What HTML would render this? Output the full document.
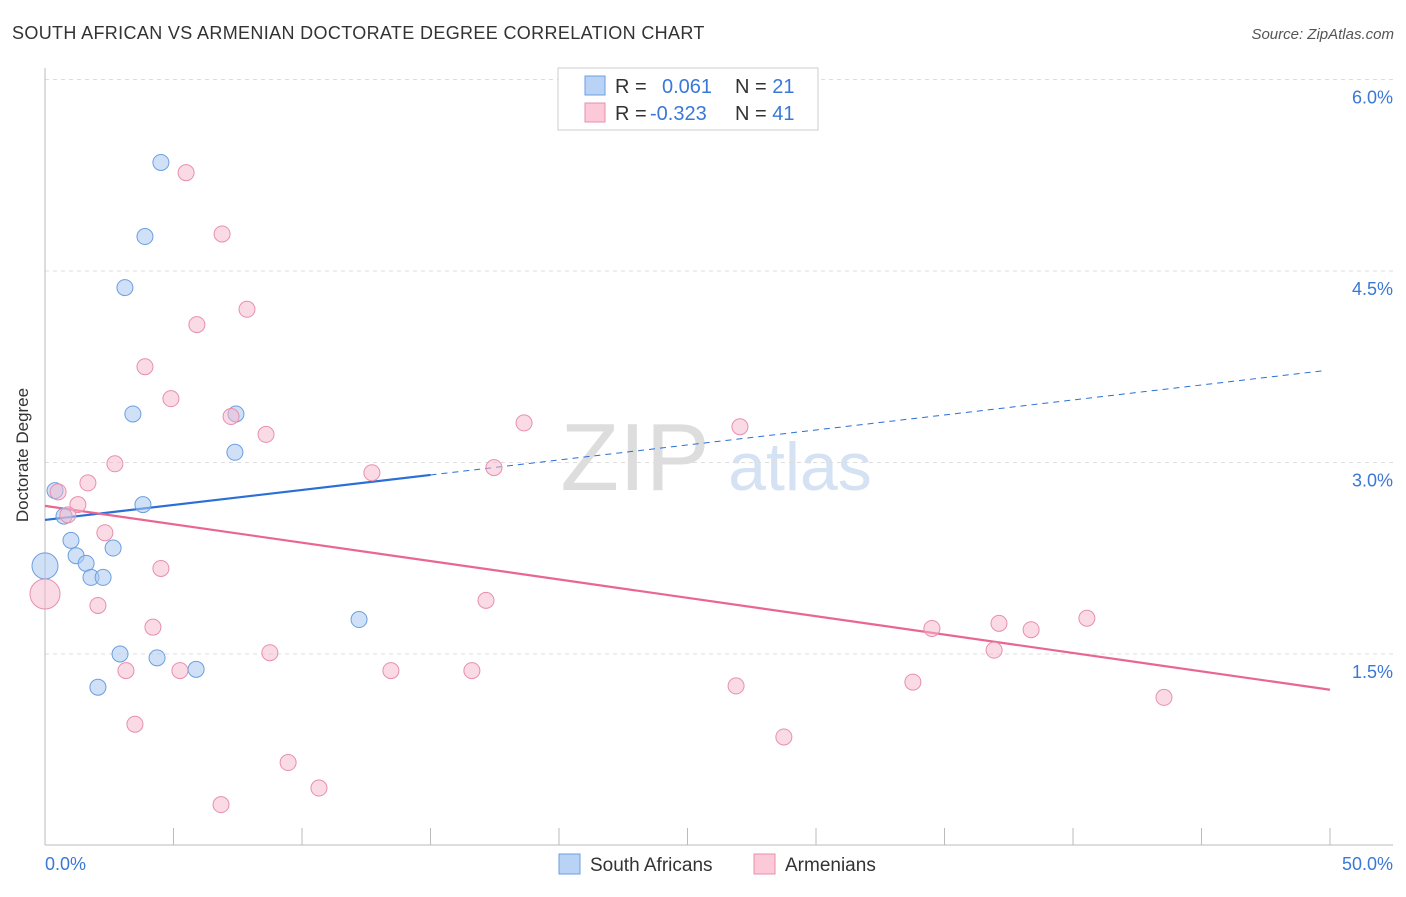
<!DOCTYPE html>
<html><head><meta charset="utf-8"><style>
body{margin:0;background:#fff;font-family:"Liberation Sans",sans-serif}
svg text{font-family:"Liberation Sans",sans-serif}
</style></head><body>
<svg width="1406" height="892" viewBox="0 0 1406 892">
<text x="12" y="39" font-size="18" fill="#333" letter-spacing="0.35">SOUTH AFRICAN VS ARMENIAN DOCTORATE DEGREE CORRELATION CHART</text>
<text x="1394" y="39" font-size="15" fill="#555" font-style="italic" text-anchor="end">Source: ZipAtlas.com</text>
<g><text x="635" y="490" font-size="96" fill="#ddd" text-anchor="middle" font-family="Liberation Serif">ZIP</text><text x="800" y="490" font-size="68" fill="#d4e2f4" text-anchor="middle">atlas</text></g>
<g id="grid"></g><g id="axes"></g><g id="trend"></g><g id="pts"></g>
<text x="28" y="455" font-size="17" fill="#333" text-anchor="middle" transform="rotate(-90 28 455)">Doctorate Degree</text>
<g>
<rect x="558" y="68" width="260" height="62" fill="#fff" stroke="#ccc"/>
<rect x="585" y="76" width="20" height="19" fill="#b8d3f5" stroke="#6a9fe0"/>
<rect x="585" y="103" width="20" height="19" fill="#fbc9d8" stroke="#e88fac"/>
<text x="615" y="93" font-size="20" fill="#333">R = <tspan fill="#3a78d8" x="662">0.061</tspan><tspan x="735" fill="#333">N = </tspan><tspan fill="#3a78d8">21</tspan></text>
<text x="615" y="120" font-size="20" fill="#333">R = <tspan fill="#3a78d8" x="650">-0.323</tspan><tspan x="735" fill="#333">N = </tspan><tspan fill="#3a78d8">41</tspan></text>
</g>
<g>
<rect x="559" y="854" width="21" height="20" fill="#b8d3f5" stroke="#6a9fe0"/>
<text x="590" y="871" font-size="19" fill="#333">South Africans</text>
<rect x="754" y="854" width="21" height="20" fill="#fbc9d8" stroke="#e88fac"/>
<text x="785" y="871" font-size="19" fill="#333">Armenians</text>
</g>
</svg>
<script>
const xTicks=[0,5,10,15,20,25,30,35,40,45,50];
const yTicks=[1.5,3.0,4.5,6.0];
const blueX=[4.51,3.89,3.11,3.42,7.43,7.39,0.39,3.81,0.74,1.01,2.65,1.21,1.60,1.79,2.26,0,12.22,2.92,4.36,5.88,2.06];
const blueY=[5.35,4.77,4.37,3.38,3.38,3.08,2.78,2.67,2.58,2.39,2.33,2.27,2.21,2.10,2.10,2.19,1.77,1.50,1.47,1.38,1.24];
const pinkX=[5.49,6.89,5.91,7.86,3.89,4.90,7.24,8.60,2.72,1.67,0.51,1.28,0.89,2.33,4.51,0,2.06,4.20,8.75,3.15,5.25,13.46,16.61,3.50,9.46,10.66,6.85,12.72,17.47,18.64,27.04,17.16,34.51,37.12,38.37,40.54,36.93,26.89,33.77,43.54,28.75];
const pinkY=[5.27,4.79,4.08,4.20,3.75,3.50,3.36,3.22,2.99,2.84,2.77,2.67,2.59,2.45,2.17,1.97,1.88,1.71,1.51,1.37,1.37,1.37,1.37,0.95,0.65,0.45,0.32,2.92,2.96,3.31,3.28,1.92,1.70,1.74,1.69,1.78,1.53,1.25,1.28,1.16,0.85];
const blueTrend=[2.55,3.72], blueTrendEnd=[15,49.8];
const pinkTrend=[2.66,1.22];
const NS="http://www.w3.org/2000/svg";
const sx=v=>45+v/50*1285, sy=v=>845.5-v*127.67;
function mk(p,tag,a){const e=document.createElementNS(NS,tag);for(const k in a)e.setAttribute(k,a[k]);document.getElementById(p).appendChild(e);return e;}
yTicks.forEach(t=>{
 const g=mk('grid','line',{x1:45,x2:1393,y1:sy(t),y2:sy(t),stroke:'#ddd','stroke-dasharray':'4,4'});
 
 
 const l=mk('grid','text',{x:1393,y:sy(t)+24,'font-size':18,fill:'#3a78d8','text-anchor':'end'});l.textContent=t.toFixed(1)+'%';
 
 
});
const ax=mk('axes','line',{x1:45,x2:45,y1:68,y2:845,stroke:'#bbb'});


const bx=mk('axes','line',{x1:45,x2:1393,y1:845,y2:845,stroke:'#bbb'});


xTicks.forEach(t=>{const e=mk('axes','line',{x1:sx(t),x2:sx(t),y1:828,y2:845,stroke:'#bbb'});
 
 });
[[0,45,'start'],[50,1393,'end']].forEach(([v,x,a])=>{const e=mk('axes','text',{x:x,y:870,'font-size':18,fill:'#3a78d8','text-anchor':a});e.textContent=v.toFixed(1)+'%';
 
 });
const bs=(blueTrend[1]-blueTrend[0])/blueTrendEnd[1];
const t1=mk('trend','line',{x1:sx(0),y1:sy(blueTrend[0]),x2:sx(blueTrendEnd[0]),y2:sy(blueTrend[0]+bs*blueTrendEnd[0]),stroke:'#2a6fd6','stroke-width':2.2});


const t2=mk('trend','line',{x1:sx(blueTrendEnd[0]),y1:sy(blueTrend[0]+bs*blueTrendEnd[0]),x2:sx(blueTrendEnd[1]),y2:sy(blueTrend[1]),stroke:'#2a6fd6','stroke-width':1,'stroke-dasharray':'6,5'});


const t3=mk('trend','line',{x1:sx(0),y1:sy(pinkTrend[0]),x2:sx(50),y2:sy(pinkTrend[1]),stroke:'#e8668f','stroke-width':2.2});


blueX.forEach((x,i)=>{const c=mk('pts','circle',{cx:sx(x),cy:sy(blueY[i]),r:x===0?13:8,fill:'rgba(169,200,240,0.55)',stroke:'#6a9fe0','stroke-width':1});
 
 });
pinkX.forEach((x,i)=>{const c=mk('pts','circle',{cx:sx(x),cy:sy(pinkY[i]),r:x===0?15:8,fill:'rgba(245,184,203,0.5)',stroke:'#e88fac','stroke-width':1});
 
 });
</script>
</body></html>
